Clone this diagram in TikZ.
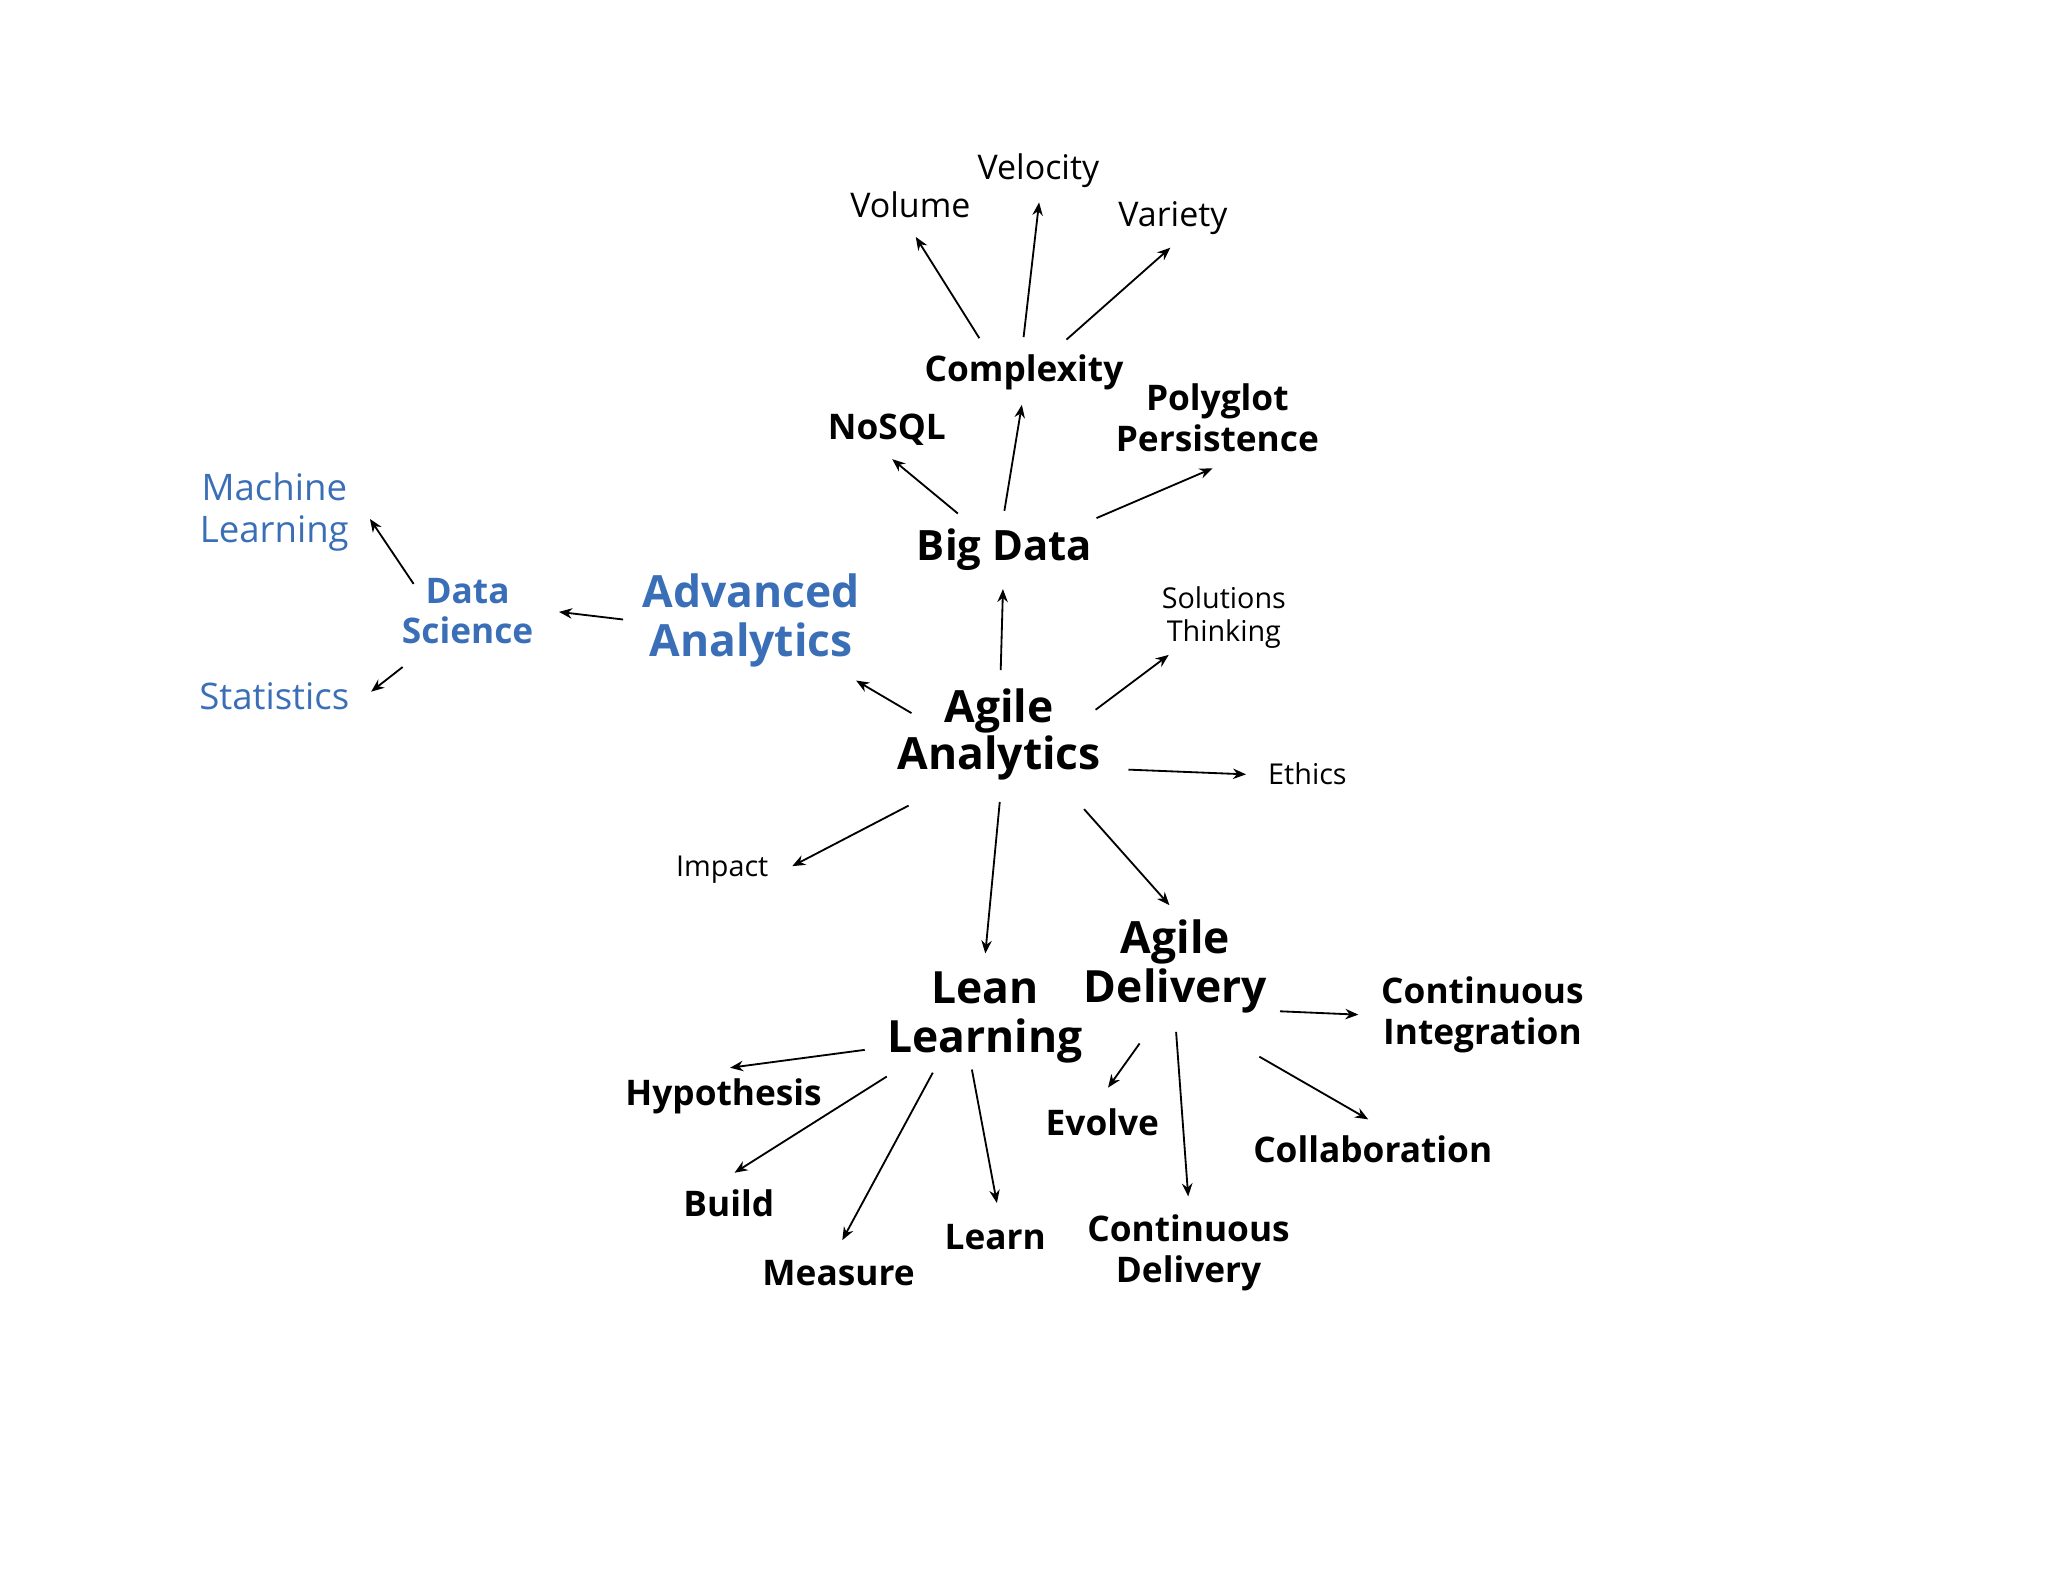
\documentclass[tikz,border=0pt]{standalone}
\usepackage{fontspec}
\setmainfont{Open Sans}
\usetikzlibrary{arrows.meta}
\definecolor{aablue}{HTML}{3A6FB7}
\begin{document}
\begin{tikzpicture}[x=0.5pt,y=-0.5pt,
  lbl/.style={align=center,inner sep=3pt,font=\fontsize{13}{15}\selectfont},
  sm/.style={align=center,inner sep=3pt,font=\fontsize{11}{12.5}\selectfont},
  bd/.style={align=center,inner sep=3pt,font=\bfseries\fontsize{13.5}{15.5}\selectfont},
  big/.style={align=center,inner sep=3pt,font=\bfseries\fontsize{17}{19}\selectfont},
  bl/.style={align=center,inner sep=3pt,text=aablue,font=\fontsize{14}{16}\selectfont},
  arr/.style={-{Stealth[length=5pt,width=4pt]},line width=0.7pt,shorten <=3pt,shorten >=2pt}]
\useasboundingbox (0,0) rectangle (1568,1211);
\node[lbl] (vel) at (795,131) {Velocity};
\node[lbl] (vol) at (697,157) {Volume};
\node[lbl] (var) at (898,167) {Variety};
\node[bd] (cx) at (784,285) {Complexity};
\node[bd] (nosql) at (679,329) {NoSQL};
\node[bd] (poly) at (932,320) {Polyglot\\Persistence};
\node[big,font=\bfseries\fontsize{16}{18}\selectfont] (bdt) at (769,421) {Big Data};
\node[sm] (sol) at (937,473) {Solutions\\Thinking};
\node[bl,font=\bfseries\fontsize{17}{19}\selectfont] (adv) at (575,475) {Advanced\\Analytics};
\node[bl,font=\bfseries\fontsize{13.5}{15.5}\selectfont] (ds) at (358,468) {Data\\Science};
\node[bl] (ml) at (210,392) {Machine\\Learning};
\node[bl] (st) at (210,533) {Statistics};
\node[big,font=\bfseries\fontsize{17}{18}\selectfont] (aa) at (765,562) {Agile\\Analytics};
\node[sm] (eth) at (1001,592) {Ethics};
\node[sm] (imp) at (553,666) {Impact};
\node[big] (ad) at (900,740) {Agile\\Delivery};
\node[big] (ll) at (754,779) {Lean\\Learning};
\node[bd] (ci) at (1135,777) {Continuous\\Integration};
\node[bd] (hyp) at (554,839) {Hypothesis};
\node[bd] (evo) at (844,859) {Evolve};
\node[bd] (col) at (1051,880) {Collaboration};
\node[bd] (bld) at (558,921) {Build};
\node[bd] (lrn) at (762,947) {Learn};
\node[bd] (mea) at (642,975) {Measure};
\node[bd] (cd) at (910,959) {Continuous\\Delivery};
\draw[arr] (753,264) -- (699,178);
\draw[arr] (783,264) -- (796,151);
\draw[arr] (812,264) -- (899,187);
\draw[arr] (768,397) -- (783,306);
\draw[arr] (738,397) -- (680,349);
\draw[arr] (834,399) -- (932,357);
\draw[arr] (766,519) -- (768,447);
\draw[arr] (834,547) -- (898,499);
\draw[arr] (703,549) -- (652,519);
\draw[arr] (483,475) -- (424,468);
\draw[arr] (320,452) -- (281,394);
\draw[arr] (313,507) -- (281,532);
\draw[arr] (858,589) -- (958,593);
\draw[arr] (701,614) -- (603,665);
\draw[arr] (766,608) -- (754,734);
\draw[arr] (826,615) -- (898,696);
\draw[arr] (974,774) -- (1044,777);
\draw[arr] (668,803) -- (555,818);
\draw[arr] (684,821) -- (559,900);
\draw[arr] (717,816) -- (643,953);
\draw[arr] (743,813) -- (764,925);
\draw[arr] (876,794) -- (846,836);
\draw[arr] (900,784) -- (910,920);
\draw[arr] (959,806) -- (1051,859);
\end{tikzpicture}
\end{document}
